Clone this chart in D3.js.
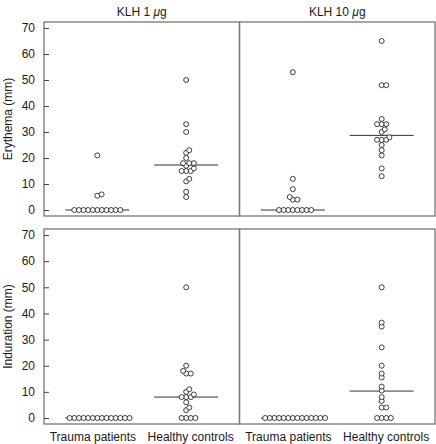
<!DOCTYPE html>
<html>
<head>
<meta charset="utf-8">
<script src="https://cdn.jsdelivr.net/npm/d3@7"></script>
<style>
  html, body { margin: 0; padding: 0; background: #fff; }
  text { font-family: "Liberation Sans", Arial, Helvetica, sans-serif; fill: #1a1a1a; }
</style>
</head>
<body>
<svg id="chart" width="436" height="444"></svg>
<script>
// ---------------- data ----------------
const categories = ["Trauma patients", "Healthy controls"];
const doses = ["1", "10"];               // KLH dose in µg (column titles)
const measures = ["Erythema (mm)", "Induration (mm)"];
const yTicks = [0, 10, 20, 30, 40, 50, 60, 70];

const erythema1Trauma  = [0,0,0,0,0,0,0,0,0,0,0, 5.5, 6, 21];
const erythema1Healthy = [50,33,30,23,22,20,18,18,18,17,16,15,15,15,12,11,7,5];
const erythema1Medians = [0, 17.3];

const erythema10Trauma  = [0,0,0,0,0,0,0,0, 4, 4, 5, 8, 12, 53];
const erythema10Healthy = [65,48,48,35,33,33,33,31,30,28,27,27,27,25,23,21,16,13];
const erythema10Medians = [0, 28.7];

const induration1Trauma  = [0,0,0,0,0,0,0,0,0,0,0,0,0,0];
const induration1Healthy = [50,20,18,17,17,11,10,9,8,8,8,6,4,3,0,0,0,0];
const induration1Medians = [0, 8];

const induration10Trauma  = [0,0,0,0,0,0,0,0,0,0,0,0,0,0];
const induration10Healthy = [50,36.5,35,27,20,17,15.5,12,10.5,8,6.5,4,4,0,0,0,0];
const induration10Medians = [0, 10.3];

const panels = [
  {row: 0, col: 0, groups: [erythema1Trauma, erythema1Healthy], medians: erythema1Medians},
  {row: 0, col: 1, groups: [erythema10Trauma, erythema10Healthy], medians: erythema10Medians},
  {row: 1, col: 0, groups: [induration1Trauma, induration1Healthy], medians: induration1Medians},
  {row: 1, col: 1, groups: [induration10Trauma, induration10Healthy], medians: induration10Medians}
];

// ---------------- layout ----------------
const svg = d3.select("#chart");
const left = 44, mid = 239.5, right = 435;
const rowsY = [[22, 216], [229, 424]];
const colsX = [[left, mid], [mid, right]];
const R = 2.5, DX = 4.6, DY = 3.5, halfMedian = 32;
const axisColor = "#777";

const x = d3.scalePoint().domain(categories).range([0, mid - left]).padding(0.6);
const xLabel = d3.scalePoint().domain(categories).range([0, mid - left]).padding(0.5);

// simple beeswarm with an elliptical collision distance
function swarm(values, y) {
  const pts = values.map(v => ({v, y: y(v)})).sort((a, b) => b.y - a.y);
  const placed = [];
  const clash = (q, cx, cy) => ((q.x - cx) / DX) ** 2 + ((q.y - cy) / DY) ** 2 < 0.999;
  pts.forEach(p => {
    const cands = [0];
    placed.forEach(q => {
      const dy = Math.abs(q.y - p.y);
      if (dy < DY) {
        const dx = DX * Math.sqrt(1 - (dy / DY) ** 2);
        cands.push(q.x + dx + 0.01, q.x - dx - 0.01);
      }
    });
    cands.sort((a, b) => Math.abs(a) - Math.abs(b) || b - a);
    for (const c of cands) {
      if (!placed.some(q => clash(q, c, p.y))) { p.x = c; break; }
    }
    placed.push(p);
  });
  return placed;
}

panels.forEach(pn => {
  const [y0, y1] = rowsY[pn.row];
  const [x0, x1] = colsX[pn.col];
  const y = d3.scaleLinear().domain([-2.3, 72.3]).range([y1, y0]);
  const g = svg.append("g").attr("transform", `translate(${x0},0)`);

  // frame
  g.append("rect").attr("x", 0).attr("y", y0).attr("width", x1 - x0).attr("height", y1 - y0)
    .attr("fill", "none").attr("stroke", axisColor).attr("stroke-width", 1.3);

  // y axis on the left column
  if (pn.col === 0) {
    const ax = g.append("g").call(d3.axisRight(y).tickValues(yTicks).tickSize(5).tickFormat(""));
    ax.select(".domain").remove();
    ax.selectAll("line").attr("stroke", "#444");
    g.selectAll(".ylab").data(yTicks).enter().append("text")
      .attr("x", -9).attr("y", d => y(d)).attr("dy", "0.36em")
      .attr("text-anchor", "end").attr("font-size", 12).text(d => d);
    svg.append("text")
      .attr("transform", `translate(12,${(y0 + y1) / 2}) rotate(-90)`)
      .attr("text-anchor", "middle").attr("font-size", 12).text(measures[pn.row]);
  }

  // points and medians
  pn.groups.forEach((vals, gi) => {
    const cx = x(categories[gi]);
    g.append("line")
      .attr("x1", cx - halfMedian).attr("x2", cx + halfMedian)
      .attr("y1", y(pn.medians[gi])).attr("y2", y(pn.medians[gi]))
      .attr("stroke", "#333").attr("stroke-width", 1);
    g.selectAll(null).data(swarm(vals, y)).enter().append("circle")
      .attr("cx", d => cx + d.x).attr("cy", d => d.y).attr("r", R)
      .attr("fill", "#fff").attr("stroke", "#111").attr("stroke-width", 0.8);
  });

  // column titles
  if (pn.row === 0) {
    const t = svg.append("text").attr("x", (x0 + x1) / 2).attr("y", 16)
      .attr("text-anchor", "middle").attr("font-size", 12);
    t.append("tspan").text("KLH " + doses[pn.col] + " ");
    t.append("tspan").attr("font-style", "italic").text("\u03bc");
    t.append("tspan").text("g");
  }
  // category labels
  if (pn.row === 1) {
    categories.forEach(c => {
      svg.append("text").attr("x", x0 + xLabel(c)).attr("y", 441)
        .attr("text-anchor", "middle").attr("font-size", 12).text(c);
    });
  }
});
</script>
</body>
</html>
